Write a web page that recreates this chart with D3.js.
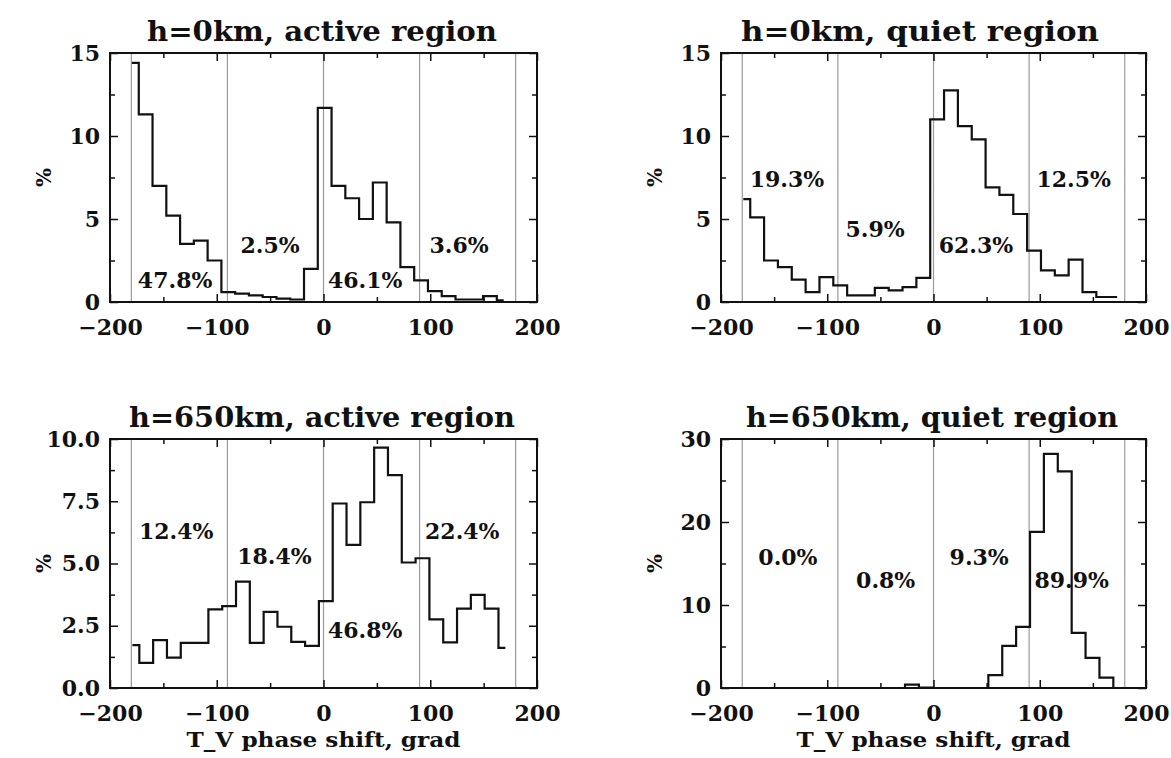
<!DOCTYPE html>
<html>
<head>
<meta charset="utf-8">
<script src="https://cdn.jsdelivr.net/npm/d3@7"></script>
<style>
  body { margin: 0; background: #fff; }
  text { font-family: "DejaVu Serif", serif; font-weight: bold; fill: #111; }
</style>
</head>
<body>
<div id="chart"></div>
<script>
const width = 1171;
const height = 758;

// histogram bins: first bin centre and bin width (grad), then % per bin
const binStartActive0 = -179.5, binWidthActive0 = 12.9;
const valuesActive0 = [14.4, 11.3, 7.0, 5.2, 3.5, 3.7, 2.5, 0.6, 0.5, 0.4, 0.3, 0.2, 0.15, 2.0,
  11.7, 7.0, 6.25, 5.0, 7.2, 4.8, 2.1, 1.3, 0.65, 0.35, 0.15, 0.15, 0.35, 0.1];

const binStartQuiet0 = -179, binWidthQuiet0 = 13.03;
const valuesQuiet0 = [6.2, 5.1, 2.5, 2.1, 1.35, 0.6, 1.5, 1.0, 0.4, 0.4, 0.85, 0.7, 0.9, 1.45,
  11.0, 12.75, 10.6, 9.8, 6.9, 6.45, 5.3, 3.1, 1.9, 1.6, 2.55, 0.6, 0.3, 0.3];

const binStartActive650 = -179, binWidthActive650 = 12.94;
const valuesActive650 = [1.72, 1.01, 1.92, 1.22, 1.81, 1.81, 3.16, 3.29, 4.27, 1.81, 3.06, 2.46, 1.85, 1.69,
  3.49, 7.41, 5.75, 7.46, 9.65, 8.55, 5.04, 5.21, 2.76, 1.83, 3.19, 3.74, 3.19, 1.61];

const binStartQuiet650 = -177.1, binWidthQuiet650 = 13.07;
const valuesQuiet650 = [0, 0, 0, 0, 0, 0, 0, 0, 0, 0, 0, 0, 0.4, 0.05,
  0, 0, 0, 0, 1.56, 5.08, 7.36, 18.8, 28.2, 26.1, 6.64, 3.64, 1.24, 0];

// quadrant shares, written in each 90-grad sector
const sharesActive0 = ['47.8%', '2.5%', '46.1%', '3.6%'];
const sharesQuiet0 = ['19.3%', '5.9%', '62.3%', '12.5%'];
const sharesActive650 = ['12.4%', '18.4%', '46.8%', '22.4%'];
const sharesQuiet650 = ['0.0%', '0.8%', '9.3%', '89.9%'];
// where those shares sit, in data units (x grad, y %)
const shareXActive0 = [-139, -50, 39, 127], shareYActive0 = [0.85, 2.95, 0.85, 2.95];
const shareXQuiet0 = [-138, -55, 40, 132], shareYQuiet0 = [6.95, 3.93, 2.93, 6.95];
const shareXActive650 = [-138, -46, 39, 130], shareYActive650 = [5.98, 4.97, 1.99, 5.98];
const shareXQuiet650 = [-137, -45, 43, 130], shareYQuiet650 = [14.85, 12.0, 14.85, 12.0];

const titles = ['h=0km, active region', 'h=0km, quiet region', 'h=650km, active region', 'h=650km, quiet region'];
const xTicks = [-200, -100, 0, 100, 200];
const xMinorTicks = [-150, -50, 50, 150];
const guideLines = [-180, -90, 0, 90, 180];
const yTicks15 = [0, 5, 10, 15], yMinor15 = [2.5, 7.5, 12.5];
const yTicks10 = [0, 2.5, 5, 7.5, 10], yMinor10 = [1.25, 3.75, 6.25, 8.75];
const yTicks30 = [0, 10, 20, 30], yMinor30 = [5, 15, 25];
const xTitle = 'T_V phase shift, grad';

const panels = [
  { start: binStartActive0, step: binWidthActive0, values: valuesActive0, shares: sharesActive0,
    sx: shareXActive0, sy: shareYActive0, title: titles[0], yMax: 15, yTicks: yTicks15, yMinor: yMinor15, fmt: d3.format('d'),
    left: 110, right: 537, top: 53, bottom: 302, titleX: 322, titleY: 41, titleLen: 350, xTitle: false },
  { start: binStartQuiet0, step: binWidthQuiet0, values: valuesQuiet0, shares: sharesQuiet0,
    sx: shareXQuiet0, sy: shareYQuiet0, title: titles[1], yMax: 15, yTicks: yTicks15, yMinor: yMinor15, fmt: d3.format('d'),
    left: 721, right: 1146, top: 53, bottom: 302, titleX: 920, titleY: 41, titleLen: 358, xTitle: false },
  { start: binStartActive650, step: binWidthActive650, values: valuesActive650, shares: sharesActive650,
    sx: shareXActive650, sy: shareYActive650, title: titles[2], yMax: 10, yTicks: yTicks10, yMinor: yMinor10, fmt: d3.format('.1f'),
    left: 110, right: 537, top: 439, bottom: 688, titleX: 322, titleY: 427, titleLen: 386, xTitle: true },
  { start: binStartQuiet650, step: binWidthQuiet650, values: valuesQuiet650, shares: sharesQuiet650,
    sx: shareXQuiet650, sy: shareYQuiet650, title: titles[3], yMax: 30, yTicks: yTicks30, yMinor: yMinor30, fmt: d3.format('d'),
    left: 721, right: 1146, top: 439, bottom: 688, titleX: 932, titleY: 427, titleLen: 372, xTitle: true }
];

const svg = d3.select('#chart').append('svg')
  .attr('width', width)
  .attr('height', height);

const styleAxis = (a) => {
  a.select('.domain').remove();
  a.selectAll('line').style('stroke', '#111').style('stroke-width', 1.5);
  a.selectAll('text').style('font-family', '"DejaVu Serif", serif').style('font-size', '22px')
    .style('font-weight', 'bold').style('fill', '#111');
}

const drawPanel = (p) => {
  const x = d3.scaleLinear().domain([-200, 200]).range([p.left, p.right]);
  const y = d3.scaleLinear().domain([0, p.yMax]).range([p.bottom, p.top]);
  const g = svg.append('g');

  g.selectAll('line.guide').data(guideLines).join('line')
    .attr('class', 'guide')
    .attr('x1', d => x(d)).attr('x2', d => x(d))
    .attr('y1', p.top).attr('y2', p.bottom)
    .style('stroke', '#9a9a9a').style('stroke-width', 1.2);

  // IDL psym=10 style step histogram
  const centres = p.values.map((v, i) => p.start + i * p.step);
  const line = d3.line()
    .x((d, i) => x(centres[i]))
    .y(d => y(d))
    .curve(d3.curveStep);
  g.append('path')
    .attr('d', line(p.values))
    .style('fill', 'none')
    .style('stroke', '#111')
    .style('stroke-width', 2.2);

  // ticks on all four sides, pointing inward
  g.append('g').attr('transform', `translate(0,${p.bottom})`)
    .call(d3.axisBottom(x).tickValues(xTicks).tickSize(-8).tickSizeOuter(0).tickPadding(17).tickFormat(d3.format('d')))
    .call(styleAxis);
  g.append('g').attr('transform', `translate(0,${p.bottom})`)
    .call(d3.axisBottom(x).tickValues(xMinorTicks).tickSize(-5).tickSizeOuter(0).tickFormat(''))
    .call(styleAxis);
  g.append('g').attr('transform', `translate(0,${p.top})`)
    .call(d3.axisTop(x).tickValues(xTicks).tickSize(-8).tickSizeOuter(0).tickFormat(''))
    .call(styleAxis);
  g.append('g').attr('transform', `translate(0,${p.top})`)
    .call(d3.axisTop(x).tickValues(xMinorTicks).tickSize(-5).tickSizeOuter(0).tickFormat(''))
    .call(styleAxis);
  g.append('g').attr('transform', `translate(${p.left},0)`)
    .call(d3.axisLeft(y).tickValues(p.yTicks).tickSize(-8).tickSizeOuter(0).tickPadding(10).tickFormat(p.fmt))
    .call(styleAxis);
  g.append('g').attr('transform', `translate(${p.left},0)`)
    .call(d3.axisLeft(y).tickValues(p.yMinor).tickSize(-5).tickSizeOuter(0).tickFormat(''))
    .call(styleAxis);
  g.append('g').attr('transform', `translate(${p.right},0)`)
    .call(d3.axisRight(y).tickValues(p.yTicks).tickSize(-8).tickSizeOuter(0).tickFormat(''))
    .call(styleAxis);
  g.append('g').attr('transform', `translate(${p.right},0)`)
    .call(d3.axisRight(y).tickValues(p.yMinor).tickSize(-5).tickSizeOuter(0).tickFormat(''))
    .call(styleAxis);

  g.append('rect')
    .attr('x', p.left).attr('y', p.top)
    .attr('width', p.right - p.left).attr('height', p.bottom - p.top)
    .style('fill', 'none').style('stroke', '#111').style('stroke-width', 2);

  g.selectAll('text.share').data(p.shares).join('text')
    .attr('class', 'share')
    .attr('x', (d, i) => x(p.sx[i]))
    .attr('y', (d, i) => y(p.sy[i]))
    .attr('text-anchor', 'middle')
    .style('font-size', '22px')
    .text(d => d);

  g.append('text')
    .attr('x', p.titleX).attr('y', p.titleY)
    .attr('text-anchor', 'middle')
    .attr('textLength', p.titleLen)
    .attr('lengthAdjust', 'spacingAndGlyphs')
    .style('font-size', '28px')
    .text(p.title);

  g.append('text')
    .attr('transform', `translate(${p.left - 66},${(p.top + p.bottom) / 2}) rotate(-90)`)
    .attr('text-anchor', 'middle')
    .attr('dy', '0.35em')
    .style('font-size', '20px')
    .text('%');

  if (p.xTitle) {
    g.append('text')
      .attr('x', (p.left + p.right) / 2).attr('y', 747)
      .attr('text-anchor', 'middle')
      .attr('textLength', 274)
      .attr('lengthAdjust', 'spacingAndGlyphs')
      .style('font-size', '20px')
      .text(xTitle);
  }
}

panels.forEach(drawPanel);
</script>
</body>
</html>
